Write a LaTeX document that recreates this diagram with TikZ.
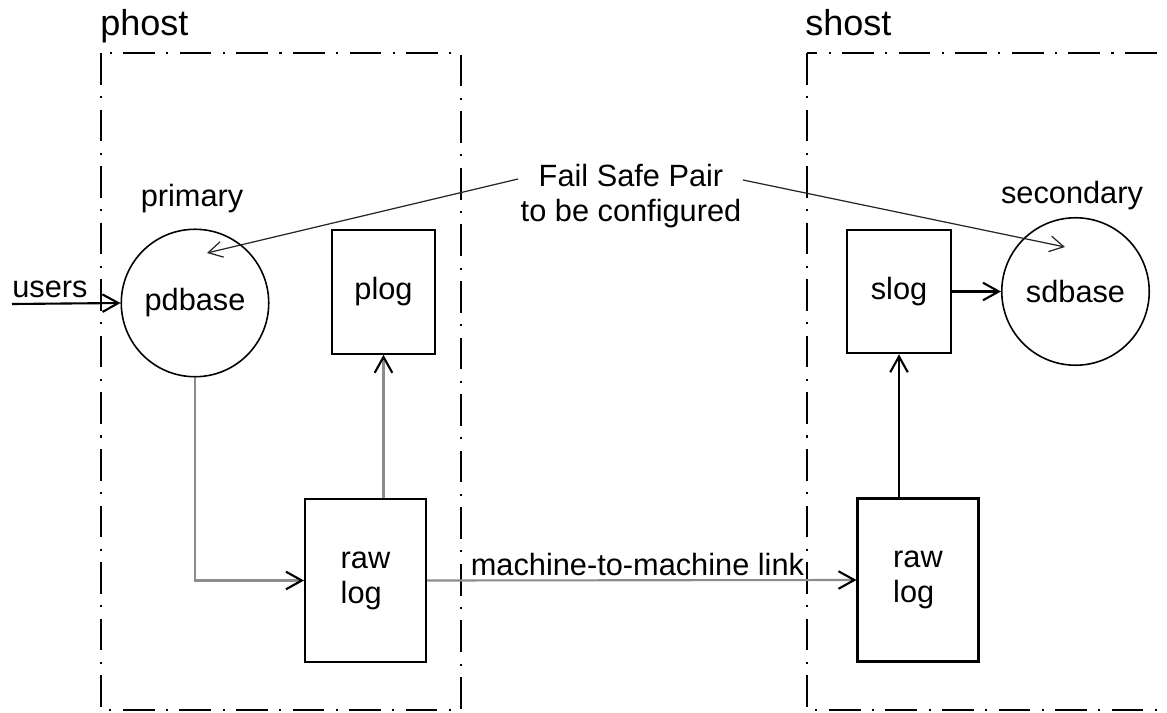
\documentclass[tikz,border=0pt]{standalone}
\usepackage{fontspec}
\setmainfont{Liberation Sans}
\usetikzlibrary{arrows.meta}
\tikzset{
  every node/.style={font=\fontsize{17.5}{20}\selectfont},
  hostlabel/.style={font=\fontsize{20.5}{24}\selectfont, anchor=base west, inner sep=0pt},
  hostbox/.style={line width=1.2pt, dash pattern=on 18pt off 6.5pt on 1.2pt off 6.5pt},
  dbnode/.style={circle, draw, line width=0.9pt, minimum size=2.95cm},
  lognode/.style={rectangle, draw, line width=1.2pt, minimum width=2.07cm, minimum height=2.47cm},
  rawnode/.style={rectangle, draw, line width=1.2pt, minimum width=2.42cm, minimum height=3.26cm, align=left},
  link/.style={line width=1.2pt, -{Straight Barb[length=9pt,width=10pt]}},
  greylink/.style={line width=1.2pt, black!45, -{Straight Barb[length=9pt,width=10pt,color=black]}},
  pairlink/.style={line width=0.7pt, black!85, -{Straight Barb[length=8pt,width=9pt]}},
}
\begin{document}
\begin{tikzpicture}[x=0.02cm,y=-0.02cm]
\clip (0,0) rectangle (1167,713);
\draw[hostbox] (101,53) rectangle (461,710);
\draw[hostbox] (807,53) rectangle (1230,710);
\node[hostlabel] (phostlbl) at (100,36) {phost};
\node[hostlabel] (shostlbl) at (805,36) {shost};
\node[dbnode] (pdbase) at (195,303) {\raisebox{-4pt}{pdbase}};
\node[anchor=base, inner sep=0pt] (primlbl) at (192,207) {primary};
\node[dbnode] (sdbase) at (1075.5,291.5) {\raisebox{-3pt}{sdbase}};
\node[anchor=base, inner sep=0pt] (seclbl) at (1072,203) {secondary};
\node[lognode] (plog) at (383.5,292) {plog};
\node[lognode] (slog) at (899,291.5) {slog};
\node[rawnode] (rawp) at (365.5,580.5) {raw\\log};
\node[rawnode] (raws) at (918,580) {raw\\log};
\node[align=center, inner sep=0pt] (pair) at (631,196) {Fail Safe Pair\\to be configured};
\node[anchor=base west, inner sep=0pt] (users) at (12,297) {users};
\coordinate (usrend) at (12,304);
\coordinate (pairL) at (518,179);
\coordinate (pairR) at (743,180);
\coordinate (ptip) at (207,253);
\coordinate (stip) at (1065,247);
% fail safe pair
\draw[pairlink] (pairL) -- (ptip);
\draw[pairlink] (pairR) -- (stip);
% primary side
\draw[link] (usrend) -- (pdbase.west);
\draw[greylink] (pdbase.south) |- (rawp.west);
\draw[greylink] (plog.south |- rawp.north) -- (plog.south);
% link between hosts
\draw[greylink] (rawp.east) -- node[pos=0.49, above, inner sep=2pt, black] (m2m) {machine-to-machine link} (raws.west);
% secondary side
\draw[link] (slog.south |- raws.north) -- (slog.south);
\draw[link] (slog.east) -- (sdbase.west);
\end{tikzpicture}
\end{document}
